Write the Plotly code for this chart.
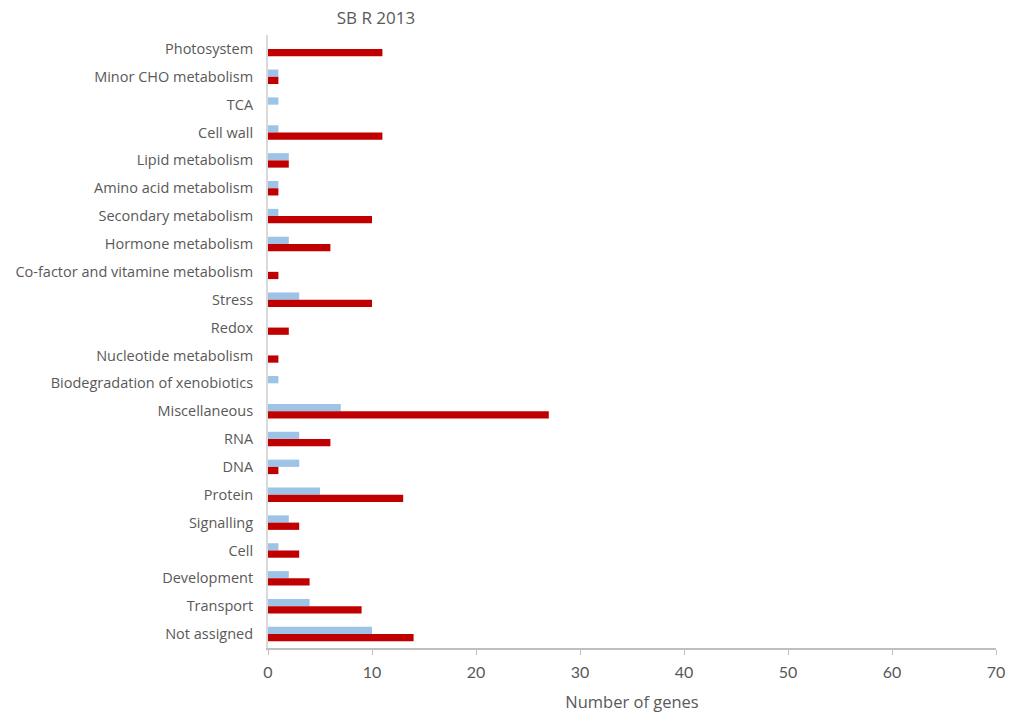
import plotly.graph_objects as go

categories = ["Photosystem", "Minor CHO metabolism", "TCA", "Cell wall", "Lipid metabolism",
              "Amino acid metabolism", "Secondary metabolism", "Hormone metabolism",
              "Co-factor and vitamine metabolism", "Stress", "Redox", "Nucleotide metabolism",
              "Biodegradation of xenobiotics", "Miscellaneous", "RNA", "DNA", "Protein",
              "Signalling", "Cell", "Development", "Transport", "Not assigned"]
blue_values = [0, 1, 1, 1, 2, 1, 1, 2, 0, 3, 0, 0, 1, 7, 3, 3, 5, 2, 1, 2, 4, 10]
red_values = [11, 1, 0, 11, 2, 1, 10, 6, 1, 10, 2, 1, 0, 27, 6, 1, 13, 3, 3, 4, 9, 14]
x_ticks = [0, 10, 20, 30, 40, 50, 60, 70]

LABEL_FONT = "Open Sans, Liberation Sans, sans-serif"
NUM_FONT = "Lato, Liberation Sans, sans-serif"

fig = go.Figure()
fig.add_trace(go.Bar(y=categories, x=blue_values, orientation="h", name="blue",
                     marker=dict(color="#9DC3E6", line=dict(width=0))))
fig.add_trace(go.Bar(y=categories, x=red_values, orientation="h", name="red",
                     marker=dict(color="#C00000", line=dict(width=0))))

fig.update_layout(
    width=1010, height=713,
    barmode="group", bargap=0.48, bargroupgap=0,
    showlegend=False,
    plot_bgcolor="white", paper_bgcolor="white",
    margin=dict(l=268, r=14, t=35, b=65, autoexpand=False),
    title=dict(text="SB R 2013", x=376/1010, xanchor="center", xref="container",
               y=1-18/713, yanchor="middle", yref="container",
               font=dict(family=LABEL_FONT, size=17, color="#595959")),
    font=dict(family=LABEL_FONT, color="#595959"),
)
fig.update_xaxes(range=[0, 70], tickvals=x_ticks, showgrid=False, zeroline=False,
                 showline=True, linecolor="#BFBFBF", linewidth=2, automargin=False,
                 ticks="outside", ticklen=5, tickcolor="#BFBFBF", tickwidth=1,
                 ticklabelstandoff=4,
                 tickfont=dict(family=NUM_FONT, size=16, color="#595959"),
                 title=dict(text="Number of genes",
                            font=dict(family=LABEL_FONT, size=16.5, color="#595959"), standoff=16))
fig.update_yaxes(autorange="reversed", categoryorder="array", categoryarray=categories,
                 showgrid=False, zeroline=False, showline=True, linecolor="#D9D9D9", linewidth=2,
                 ticks="", ticklabelstandoff=10, automargin=False,
                 tickfont=dict(family=LABEL_FONT, size=14.5, color="#595959"))

# remove the default 8px page margin so the figure fills the window exactly
fig.write_html("out.html", config={"displayModeBar": False},
               post_script="document.body.style.margin='0';")
